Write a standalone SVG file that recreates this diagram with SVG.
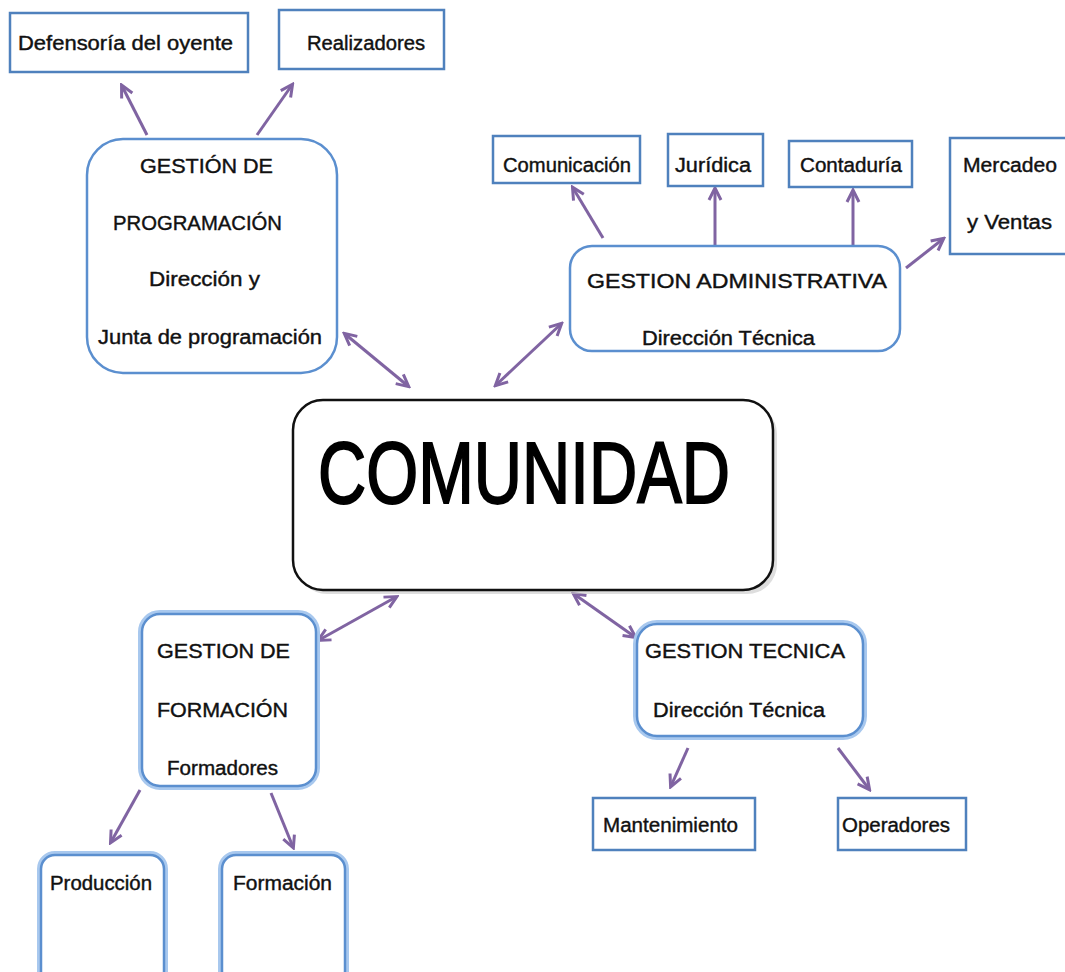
<svg xmlns="http://www.w3.org/2000/svg" width="1065" height="972" viewBox="0 0 1065 972">
<style>
.box{fill:#fff;stroke:#4F81BD;stroke-width:2.5}
.rbox{fill:#fff;stroke:#5B8FCF;stroke-width:2.5}
.halo{fill:none;stroke:#A8C8EE;stroke-width:8}
.t{font-family:"Liberation Sans",Arial,sans-serif;font-size:20px;fill:#111;stroke:#111;stroke-width:0.4}
.big{font-family:"Liberation Sans",Arial,sans-serif;font-size:88px;fill:#000;stroke:#000;stroke-width:2}
.c{stroke:#8064A2;stroke-width:3;fill:none}
</style>
<defs>
<marker id="ah" viewBox="0 0 16 16" refX="13" refY="8" markerWidth="16" markerHeight="16" markerUnits="userSpaceOnUse" orient="auto-start-reverse">
<path d="M2,2 L14,8 L2,14" fill="none" stroke="#8064A2" stroke-width="3"/>
</marker>
</defs>

<g id="connectors">
<line class="c" x1="147" y1="135" x2="122" y2="86" marker-end="url(#ah)"/>
<line class="c" x1="257" y1="135" x2="292" y2="85" marker-end="url(#ah)"/>
<line class="c" x1="345" y1="334" x2="408" y2="386" marker-start="url(#ah)" marker-end="url(#ah)"/>
<line class="c" x1="496" y1="385" x2="561" y2="324" marker-start="url(#ah)" marker-end="url(#ah)"/>
<line class="c" x1="603" y1="238" x2="573" y2="188" marker-end="url(#ah)"/>
<line class="c" x1="715" y1="246" x2="715" y2="189" marker-end="url(#ah)"/>
<line class="c" x1="853" y1="246" x2="853" y2="191" marker-end="url(#ah)"/>
<line class="c" x1="906" y1="268" x2="943" y2="239" marker-end="url(#ah)"/>
<line class="c" x1="319" y1="640" x2="396" y2="597" marker-start="url(#ah)" marker-end="url(#ah)"/>
<line class="c" x1="574" y1="594" x2="635" y2="637" marker-start="url(#ah)" marker-end="url(#ah)"/>
<line class="c" x1="140" y1="790" x2="111" y2="842" marker-end="url(#ah)"/>
<line class="c" x1="271" y1="793" x2="293" y2="847" marker-end="url(#ah)"/>
<line class="c" x1="688" y1="748" x2="671" y2="786" marker-end="url(#ah)"/>
<line class="c" x1="838" y1="748" x2="869" y2="789" marker-end="url(#ah)"/>
</g>

<g id="defensoria">
<rect class="box" x="10" y="13" width="238" height="59"/>
<text class="t" x="18" y="50" textLength="215" lengthAdjust="spacingAndGlyphs">Defensoría del oyente</text>
</g>
<g id="realizadores">
<rect class="box" x="279" y="10" width="165" height="59"/>
<text class="t" x="307" y="50" textLength="118" lengthAdjust="spacingAndGlyphs">Realizadores</text>
</g>

<g id="gestion-programacion">
<rect class="rbox" x="87" y="139" width="250" height="234" rx="36"/>
<text class="t" x="140" y="173" textLength="133" lengthAdjust="spacingAndGlyphs">GESTIÓN DE</text>
<text class="t" x="113" y="230" textLength="169" lengthAdjust="spacingAndGlyphs">PROGRAMACIÓN</text>
<text class="t" x="149" y="286" textLength="111" lengthAdjust="spacingAndGlyphs">Dirección y</text>
<text class="t" x="98" y="344" textLength="224" lengthAdjust="spacingAndGlyphs">Junta de programación</text>
</g>

<g id="comunicacion">
<rect class="box" x="493" y="136" width="147" height="47"/>
<text class="t" x="503" y="172" textLength="128" lengthAdjust="spacingAndGlyphs">Comunicación</text>
</g>
<g id="juridica">
<rect class="box" x="668" y="134" width="95" height="52"/>
<text class="t" x="675" y="172" textLength="76" lengthAdjust="spacingAndGlyphs">Jurídica</text>
</g>
<g id="contaduria">
<rect class="box" x="789" y="141" width="123" height="46"/>
<text class="t" x="800" y="172" textLength="102" lengthAdjust="spacingAndGlyphs">Contaduría</text>
</g>
<g id="mercadeo">
<rect class="box" x="950" y="138" width="125" height="116"/>
<text class="t" x="963" y="172" textLength="94" lengthAdjust="spacingAndGlyphs">Mercadeo</text>
<text class="t" x="967" y="229" textLength="85" lengthAdjust="spacingAndGlyphs">y Ventas</text>
</g>

<g id="gestion-administrativa">
<rect class="rbox" x="570" y="246" width="330" height="105" rx="22"/>
<text class="t" x="587" y="288" textLength="300" lengthAdjust="spacingAndGlyphs">GESTION ADMINISTRATIVA</text>
<text class="t" x="642" y="345" textLength="173" lengthAdjust="spacingAndGlyphs">Dirección Técnica</text>
</g>

<g id="comunidad">
<rect x="297" y="404" width="480" height="190" rx="30" fill="#c8c8c8" opacity="0.6"/>
<rect x="293" y="400" width="480" height="190" rx="30" fill="#fff" stroke="#111" stroke-width="2.5"/>
<text class="big" x="318" y="503" textLength="412" lengthAdjust="spacingAndGlyphs">COMUNIDAD</text>
</g>

<g id="gestion-formacion">
<rect class="halo" x="142" y="614" width="174" height="172" rx="18"/>
<rect class="rbox" x="142" y="614" width="174" height="172" rx="18"/>
<text class="t" x="157" y="658" textLength="133" lengthAdjust="spacingAndGlyphs">GESTION DE</text>
<text class="t" x="157" y="717" textLength="131" lengthAdjust="spacingAndGlyphs">FORMACIÓN</text>
<text class="t" x="167" y="775" textLength="111" lengthAdjust="spacingAndGlyphs">Formadores</text>
</g>

<g id="gestion-tecnica">
<rect class="halo" x="637" y="624" width="226" height="112" rx="20"/>
<rect class="rbox" x="637" y="624" width="226" height="112" rx="20"/>
<text class="t" x="645" y="658" textLength="200" lengthAdjust="spacingAndGlyphs">GESTION TECNICA</text>
<text class="t" x="653" y="717" textLength="172" lengthAdjust="spacingAndGlyphs">Dirección Técnica</text>
</g>

<g id="produccion">
<rect class="halo" x="41" y="855" width="123" height="130" rx="14"/>
<rect class="rbox" x="41" y="855" width="123" height="130" rx="14"/>
<text class="t" x="50" y="890" textLength="102" lengthAdjust="spacingAndGlyphs">Producción</text>
</g>
<g id="formacion">
<rect class="halo" x="222" y="855" width="123" height="130" rx="14"/>
<rect class="rbox" x="222" y="855" width="123" height="130" rx="14"/>
<text class="t" x="233" y="890" textLength="99" lengthAdjust="spacingAndGlyphs">Formación</text>
</g>

<g id="mantenimiento">
<rect class="box" x="593" y="798" width="162" height="52"/>
<text class="t" x="603" y="832" textLength="135" lengthAdjust="spacingAndGlyphs">Mantenimiento</text>
</g>
<g id="operadores">
<rect class="box" x="838" y="798" width="128" height="52"/>
<text class="t" x="842" y="832" textLength="108" lengthAdjust="spacingAndGlyphs">Operadores</text>
</g>
</svg>
